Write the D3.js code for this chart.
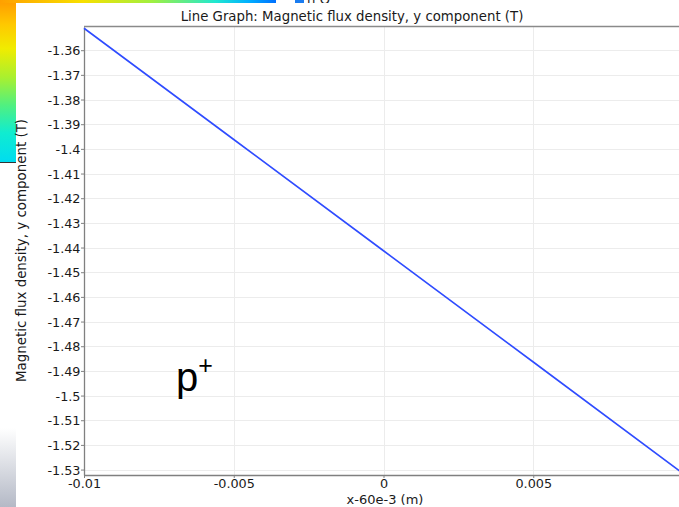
<!DOCTYPE html>
<html><head><meta charset="utf-8">
<script src="https://cdn.jsdelivr.net/npm/d3@7"></script>
<style>html,body{margin:0;padding:0;background:#fff;overflow:hidden}svg{display:block}</style>
</head><body>
<script>
// ---- data ----
const chartTitle = "Line Graph: Magnetic flux density, y component (T)";
const xLabel = "x-60e-3 (m)";
const yLabel = "Magnetic flux density, y component (T)";
const xTicks = [-0.01, -0.005, 0, 0.005];
const xTickLabels = ["-0.01", "-0.005", "0", "0.005"];
const yTicks = [-1.36,-1.37,-1.38,-1.39,-1.40,-1.41,-1.42,-1.43,-1.44,-1.45,-1.46,-1.47,-1.48,-1.49,-1.50,-1.51,-1.52,-1.53];
const yTickLabels = ["-1.36","-1.37","-1.38","-1.39","-1.4","-1.41","-1.42","-1.43","-1.44","-1.45","-1.46","-1.47","-1.48","-1.49","-1.5","-1.51","-1.52","-1.53"];
const lineX = [-0.01, -0.005, 0, 0.005, 0.01];
const lineY = [-1.3511, -1.3962, -1.4413, -1.4864, -1.5316];
const xDomain = [-0.01, 0.01];
const yDomain = [-1.5322, -1.3506];

const W = 679, H = 507;
const svg = d3.select("body").append("svg").attr("width", W).attr("height", H);
const defs = svg.append("defs");

// background fragments (field plot peeking behind the panel)
const gL = defs.append("linearGradient").attr("id","gl").attr("x1",0).attr("y1",0).attr("x2",0).attr("y2",1);
[[0,"#ff9a00"],[0.15,"#ffc800"],[0.3,"#f0ec00"],[0.48,"#a8f030"],[0.65,"#50f080"],[0.82,"#10ecd0"],[1,"#00dcf0"]]
  .forEach(s=>gL.append("stop").attr("offset",s[0]).attr("stop-color",s[1]));
const gT = defs.append("linearGradient").attr("id","gt").attr("x1",0).attr("y1",0).attr("x2",1).attr("y2",0);
[[0,"#ffa000"],[0.3,"#f8e000"],[0.55,"#a0f040"],[0.78,"#20e8d0"],[0.9,"#00b0ff"],[1,"#0070ff"]]
  .forEach(s=>gT.append("stop").attr("offset",s[0]).attr("stop-color",s[1]));
const gB = defs.append("linearGradient").attr("id","gb").attr("x1",0).attr("y1",0).attr("x2",0).attr("y2",1);
[[0,"#ffffff"],[1,"#b4b9c6"]].forEach(s=>gB.append("stop").attr("offset",s[0]).attr("stop-color",s[1]));

svg.append("rect").attr("x",0).attr("y",0).attr("width",16).attr("height",162).attr("fill","url(#gl)");
svg.append("rect").attr("x",0).attr("y",0).attr("width",276).attr("height",3).attr("fill","url(#gt)");
svg.append("line").attr("x1",0).attr("x2",16).attr("y1",162.5).attr("y2",162.5).attr("stroke","#333").attr("stroke-width",1);
svg.append("rect").attr("x",0).attr("y",428).attr("width",16).attr("height",79).attr("fill","url(#gb)");
svg.append("rect").attr("x",295).attr("y",0).attr("width",9).attr("height",4).attr("fill","#1a7cf0");
svg.append("text").attr("x",307).attr("y",4).attr("font-family","DejaVu Sans").attr("font-size",13).attr("fill","#222").text("п Q");
// white panel
svg.append("rect").attr("x",16).attr("y",3).attr("width",W-16).attr("height",H-3).attr("fill","#fff");

const x = d3.scaleLinear().domain(xDomain).range([84, 683]);
const y = d3.scaleLinear().domain(yDomain).range([475, 27]);

const font = "DejaVu Sans";
// grid
const g = svg.append("g");
g.selectAll(".gx").data(xTicks).join("line")
  .attr("x1",d=>Math.round(x(d))+0.5).attr("x2",d=>Math.round(x(d))+0.5)
  .attr("y1",27).attr("y2",475).attr("stroke","#ececec").attr("stroke-width",1);
g.selectAll(".gy").data(yTicks).join("line")
  .attr("x1",84).attr("x2",683)
  .attr("y1",d=>Math.round(y(d))+0.5).attr("y2",d=>Math.round(y(d))+0.5)
  .attr("stroke","#ececec").attr("stroke-width",1);

// top border
svg.append("line").attr("x1",84).attr("x2",W).attr("y1",26.5).attr("y2",26.5).attr("stroke","#8a8a8a").attr("stroke-width",1.3);

// axes
const xAxis = d3.axisBottom(x).tickValues(xTicks).tickSize(3).tickSizeOuter(0)
  .tickFormat((d,i)=>xTickLabels[i]);
const yAxis = d3.axisLeft(y).tickValues(yTicks).tickSize(3).tickSizeOuter(0)
  .tickFormat((d,i)=>yTickLabels[i]);
const ax = svg.append("g").attr("transform","translate(0,475)").call(xAxis);
const ay = svg.append("g").attr("transform","translate(84,0)").call(yAxis);
[ax, ay].forEach(a=>{
  a.select(".domain").attr("stroke","#808080").attr("stroke-width",1.3);
  a.selectAll(".tick line").attr("stroke","#808080");
  a.selectAll(".tick text").attr("font-family",font).attr("font-size",12.8).attr("fill","#1a1a1a");
});
ay.selectAll(".tick text").attr("x",-3.5).attr("dy","0.35em");
ax.selectAll(".tick text").attr("y",3).attr("dy","0.8em");

// line
svg.append("path").datum(lineX.map((v,i)=>[v,lineY[i]]))
  .attr("fill","none").attr("stroke","#2f4cff").attr("stroke-width",1.6)
  .attr("d", d3.line().x(d=>x(d[0])).y(d=>y(d[1])));

// titles
svg.append("text").attr("x",352).attr("y",20.5).attr("text-anchor","middle")
  .attr("font-family",font).attr("font-size",13.3).attr("fill","#1a1a1a").text(chartTitle);
svg.append("text").attr("x",385).attr("y",504).attr("text-anchor","middle")
  .attr("font-family",font).attr("font-size",13).attr("fill","#1a1a1a").text(xLabel);
svg.append("text").attr("transform","translate(26,250.5) rotate(-90)").attr("text-anchor","middle")
  .attr("font-family",font).attr("font-size",13.4).attr("fill","#1a1a1a").text(yLabel);

// annotation p+
const ann = svg.append("text").attr("x",176).attr("y",391).attr("font-family","Liberation Sans").attr("fill","#000");
ann.append("tspan").attr("font-size",40).text("p");
ann.append("tspan").attr("font-size",25).attr("dy",-17).text("+");
</script>
</body></html>
